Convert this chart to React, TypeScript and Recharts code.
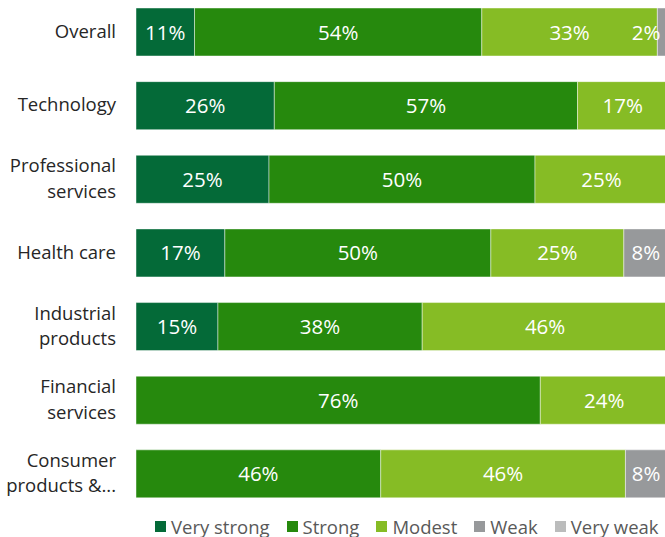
import { BarChart, Bar, XAxis, YAxis, Legend, LabelList } from "recharts";

const categories = [
  "Overall",
  "Technology",
  "Professional services",
  "Health care",
  "Industrial products",
  "Financial services",
  "Consumer products & services",
];
const veryStrong = [11, 26, 25, 16.7, 15.4, null, null];
const strong = [54, 57, 50, 50, 38.4, 76, 46];
const modest = [33, 17, 25, 25, 46.2, 24, 46];
const weak = [2, null, null, 8.3, null, null, 8];
const veryWeak = [null, null, null, null, null, null, null];

const series = [
  { key: "veryStrong", name: "Very strong", color: "#046A38" },
  { key: "strong", name: "Strong", color: "#26890D" },
  { key: "modest", name: "Modest", color: "#86BC25" },
  { key: "weak", name: "Weak", color: "#97999B" },
  { key: "veryWeak", name: "Very weak", color: "#BBBCBC" },
];

const data = categories.map((name, i) => ({
  name,
  veryStrong: veryStrong[i],
  strong: strong[i],
  modest: modest[i],
  weak: weak[i],
  veryWeak: veryWeak[i],
}));

const FONT = "'Open Sans', sans-serif";
const LABEL_MAX_X = 646; // keep small end labels inside the visible frame

// word wrap to 2 lines, ellipsis if cut
const wrapLabel = (text: string, maxChars = 12, maxLines = 2) => {
  const words = text.split(" ");
  const lines: string[] = [];
  let cur = "";
  let cut = false;
  for (let i = 0; i < words.length; i++) {
    const w = words[i];
    const next = cur ? cur + " " + w : w;
    if (next.length <= maxChars || !cur) {
      cur = next;
    } else {
      lines.push(cur);
      cur = w;
      if (lines.length === maxLines) {
        cut = true;
        break;
      }
    }
  }
  if (!cut && cur) lines.push(cur);
  if (cut) lines[maxLines - 1] = lines[maxLines - 1] + "...";
  return lines.slice(0, maxLines);
};

const CategoryTick = (props: any) => {
  const { x, y, payload } = props;
  const lines = wrapLabel(payload.value);
  const lh = 25.5;
  const start = y - ((lines.length - 1) * lh) / 2 + 6;
  return (
    <text x={x} textAnchor="end" fill="#262626" fontSize={18.5} fontFamily={FONT}>
      {lines.map((l, i) => (
        <tspan key={i} x={x} y={start + i * lh}>
          {l}
        </tspan>
      ))}
    </text>
  );
};

const ValueLabel = (props: any) => {
  const { x, y, width, height, value } = props;
  if (value == null || value === 0) return null;
  const cx = Math.min(x + width / 2, LABEL_MAX_X);
  return (
    <text
      x={cx}
      y={y + height / 2 + 7.5}
      textAnchor="middle"
      fill="#ffffff"
      fontSize={20.5}
      fontFamily={FONT}
    >
      {Math.round(value)}%
    </text>
  );
};

const LegendContent = () => (
  <div
    style={{
      display: "flex",
      paddingTop: 4,
      paddingLeft: 155,
      lineHeight: "24px",
      fontFamily: FONT,
      fontSize: 18.5,
      color: "#595959",
      whiteSpace: "nowrap",
    }}
  >
    {series.map((s) => (
      <div key={s.key} style={{ display: "flex", alignItems: "center", marginRight: 17 }}>
        <span
          style={{ width: 11, height: 11, background: s.color, display: "inline-block", marginRight: 5 }}
        />
        <span>{s.name}</span>
      </div>
    ))}
  </div>
);

export default function App() {
  return (
    <div
      style={{
        position: "absolute",
        left: 0,
        top: 0,
        width: 665,
        height: 537,
        overflow: "hidden",
        background: "#ffffff",
      }}
    >
      <div style={{ marginTop: -5 }}>
        <BarChart
          width={668}
          height={550}
          data={data}
          layout="vertical"
          margin={{ top: 0, right: 0, left: 0, bottom: 6.5 }}
        >
          <XAxis type="number" domain={[0, 100]} hide />
          <YAxis
            type="category"
            dataKey="name"
            width={136}
            axisLine={false}
            tickLine={false}
            tickMargin={14}
            interval={0}
            tick={<CategoryTick />}
          />
          <Legend verticalAlign="bottom" content={<LegendContent />} />
          {series.map((s) => (
            <Bar
              key={s.key}
              dataKey={s.key}
              name={s.name}
              stackId="a"
              fill={s.color}
              stroke="#ffffff"
              strokeOpacity={0.45}
              strokeWidth={1}
              barSize={48}
              isAnimationActive={false}
            >
              <LabelList dataKey={s.key} content={<ValueLabel />} />
            </Bar>
          ))}
        </BarChart>
      </div>
    </div>
  );
}
